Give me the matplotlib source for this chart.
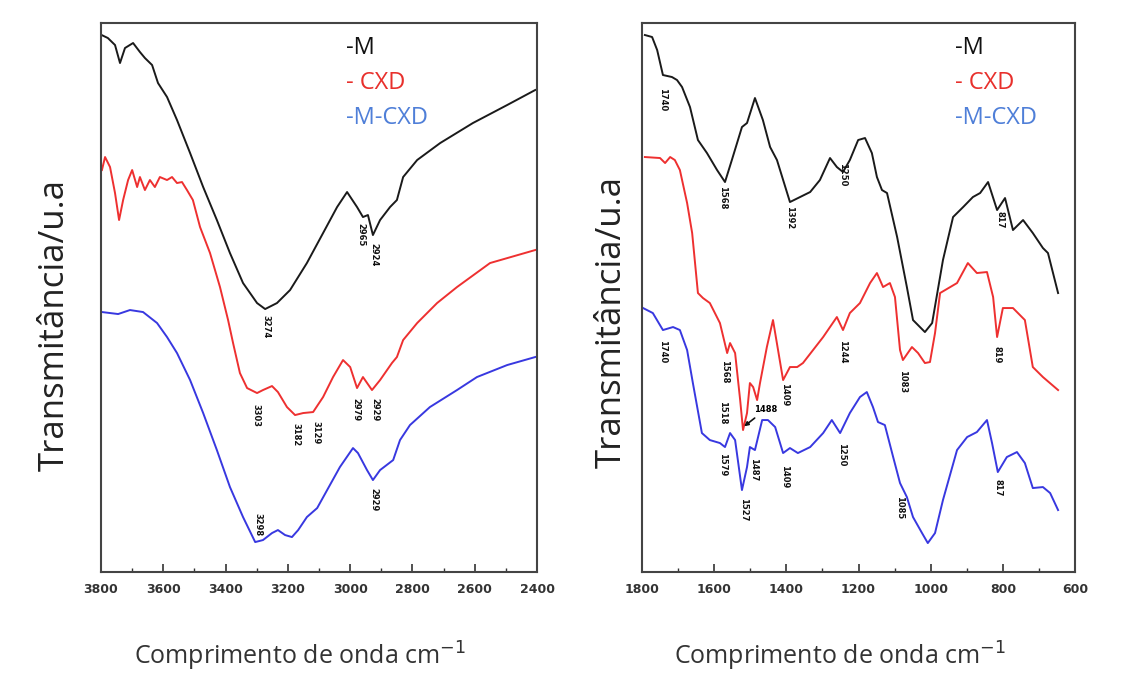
import matplotlib.pyplot as plt
from matplotlib.ticker import MultipleLocator

# ---- data (wavenumber cm-1, transmittance a.u.) ----
# left panel: 3800-2400 cm-1
wn_m_hi = [3798, 3778, 3755, 3739, 3723, 3697, 3675, 3659, 3636, 3617, 3588, 3556, 3514,
           3472, 3428, 3386, 3344, 3299, 3273, 3235, 3193, 3139, 3087, 3042, 3010, 2978,
           2959, 2943, 2927, 2904, 2872, 2850, 2830, 2785, 2711, 2606, 2496, 2406]
t_m_hi = [537, 534, 527, 509, 524, 529, 520, 514, 507, 489, 475, 452, 419,
          385, 352, 319, 289, 269, 263, 269, 282, 309, 339, 365, 380, 365,
          355, 357, 337, 352, 365, 372, 395, 412, 429, 449, 467, 482]

wn_cxd_hi = [3797, 3787, 3771, 3755, 3742, 3729, 3713, 3700, 3684, 3675, 3659, 3643, 3627,
             3611, 3588, 3572, 3556, 3540, 3524, 3505, 3482, 3450, 3418, 3392, 3376, 3354,
             3331, 3299, 3280, 3251, 3232, 3203, 3177, 3151, 3119, 3087, 3055, 3023, 3000,
             2978, 2959, 2930, 2904, 2866, 2850, 2830, 2785, 2721, 2657, 2551, 2406]
t_cxd_hi = [402, 415, 405, 379, 352, 372, 392, 402, 385, 395, 382, 392, 385,
            395, 392, 395, 389, 390, 382, 372, 345, 319, 285, 252, 229, 199,
            184, 179, 182, 186, 180, 165, 157, 159, 160, 175, 195, 212, 205,
            184, 195, 182, 192, 209, 215, 232, 249, 269, 285, 309, 322]

wn_mcxd_hi = [3797, 3745, 3707, 3665, 3620, 3588, 3556, 3514, 3472, 3428, 3386, 3344, 3305,
              3280, 3251, 3232, 3209, 3187, 3167, 3139, 3106, 3074, 3033, 2991, 2975, 2946,
              2927, 2904, 2862, 2840, 2808, 2744, 2657, 2593, 2496, 2406]
t_mcxd_hi = [260, 258, 262, 260, 249, 235, 219, 192, 159, 122, 85, 55, 30,
             32, 39, 42, 37, 35, 42, 55, 64, 82, 105, 124, 119, 102,
             92, 102, 112, 132, 147, 165, 182, 195, 207, 215]

# right panel: 1800-600 cm-1
wn_m_lo = [1792, 1772, 1758, 1742, 1717, 1703, 1689, 1667, 1645, 1620, 1592, 1570, 1551,
           1523, 1509, 1487, 1465, 1445, 1426, 1390, 1362, 1334, 1307, 1279, 1260, 1243,
           1224, 1201, 1182, 1163, 1149, 1135, 1121, 1093, 1066, 1049, 1016, 996, 966,
           938, 910, 883, 863, 841, 816, 794, 772, 744, 717, 689, 675, 647]
t_m_lo = [537, 535, 522, 497, 495, 492, 485, 465, 432, 419, 402, 390, 412,
          445, 449, 474, 452, 425, 412, 370, 375, 380, 392, 414, 405, 400,
          412, 432, 434, 419, 395, 382, 379, 335, 285, 252, 240, 249, 312,
          355, 365, 375, 379, 390, 362, 374, 342, 352, 339, 324, 319, 279]

wn_cxd_lo = [1792, 1750, 1736, 1722, 1709, 1695, 1675, 1661, 1645, 1631, 1612, 1584, 1564,
             1556, 1542, 1528, 1520, 1509, 1501, 1492, 1481, 1473, 1454, 1437, 1423, 1409,
             1390, 1370, 1354, 1326, 1298, 1279, 1260, 1243, 1224, 1196, 1168, 1149, 1132,
             1113, 1099, 1085, 1077, 1052, 1035, 1016, 1002, 988, 974, 927, 897, 872, 844,
             827, 816, 800, 772, 739, 717, 689, 647]
t_cxd_lo = [415, 414, 409, 415, 412, 402, 369, 339, 279, 274, 269, 249, 219,
            229, 219, 172, 142, 159, 189, 185, 172, 189, 225, 252, 222, 192,
            205, 205, 209, 222, 235, 245, 255, 242, 259, 269, 289, 299, 285,
            289, 275, 222, 212, 225, 219, 209, 210, 239, 279, 289, 309, 299, 300,
            275, 235, 264, 264, 252, 205, 195, 182]

wn_mcxd_lo = [1797, 1770, 1742, 1714, 1695, 1675, 1659, 1634, 1612, 1584, 1570, 1556, 1542,
              1523, 1509, 1501, 1487, 1467, 1451, 1431, 1409, 1390, 1368, 1334, 1298, 1274,
              1251, 1224, 1196, 1177, 1160, 1146, 1127, 1104, 1085, 1066, 1049, 1024, 1008,
              988, 966, 927, 899, 872, 844, 830, 814, 789, 761, 739, 717, 689, 669, 647]
t_mcxd_lo = [264, 259, 242, 245, 242, 222, 189, 139, 132, 129, 125, 139, 132,
             82, 105, 125, 122, 152, 152, 145, 119, 124, 119, 125, 139, 152,
             139, 159, 175, 180, 165, 150, 147, 115, 89, 75, 55, 39, 29,
             39, 72, 122, 135, 140, 152, 129, 100, 115, 120, 109, 84, 85, 79, 62]

# peak labels: (text, wavenumber, height)
peaks_hi = [("3274", 3270, 245), ("2965", 2965, 337), ("2924", 2923, 317),
            ("3303", 3302, 157), ("3182", 3174, 137), ("3129", 3110, 139),
            ("2979", 2981, 162), ("2929", 2920, 162), ("2929", 2923, 72),
            ("3298", 3296, 47)]
peaks_lo = [("1740", 1742, 472), ("1568", 1576, 374), ("1392", 1390, 354),
            ("1250", 1243, 397), ("817", 808, 352), ("1740", 1742, 220),
            ("1568", 1570, 200), ("1518", 1578, 159), ("1409", 1404, 177),
            ("1244", 1243, 220), ("1083", 1077, 190), ("819", 816, 217),
            ("1579", 1576, 107), ("1527", 1520, 62), ("1487", 1492, 102),
            ("1409", 1404, 95), ("1250", 1246, 117), ("1085", 1085, 64),
            ("817", 814, 84)]

legend_names = ["-M", "- CXD", "-M-CXD"]
legend_colors = ["#111111", "#e8302c", "#4f7fd8"]
line_colors = ["#1a1a1a", "#ee3030", "#3838e0"]

fig = plt.figure(figsize=(11.21, 6.77), dpi=100)
ax1 = fig.add_axes([0.0901, 0.155, 0.389, 0.811])
ax2 = fig.add_axes([0.5727, 0.155, 0.3863, 0.811])

panels = [
    (ax1, [(wn_m_hi, t_m_hi), (wn_cxd_hi, t_cxd_hi), (wn_mcxd_hi, t_mcxd_hi)], (3800, 2400), peaks_hi, 0.562),
    (ax2, [(wn_m_lo, t_m_lo), (wn_cxd_lo, t_cxd_lo), (wn_mcxd_lo, t_mcxd_lo)], (1800, 600), peaks_lo, 0.722),
]

for ax, series, xl, peaks, leg_x in panels:
    for (x, y), c in zip(series, line_colors):
        ax.plot(x, y, color=c, lw=1.4)
    ax.set_xlim(*xl)
    ax.set_ylim(0, 549)
    ax.set_yticks([])
    ax.xaxis.set_major_locator(MultipleLocator(200))
    ax.xaxis.set_minor_locator(MultipleLocator(100))
    ax.tick_params(axis='x', which='major', direction='in', length=6, width=1.2,
                   colors='#333333', labelsize=9, pad=8)
    ax.tick_params(axis='x', which='minor', direction='in', length=3, width=1.0, colors='#333333')
    for lab in ax.get_xticklabels():
        lab.set_fontweight('bold')
    for sp in ax.spines.values():
        sp.set_color('#444444')
        sp.set_linewidth(1.5)
    for txt, px, py in peaks:
        ax.text(px, py, txt, rotation=-90, fontsize=6, fontweight='bold',
                ha='center', va='center', color='#111111')
    # legend-like colored names
    for i, (name, c) in enumerate(zip(legend_names, legend_colors)):
        ax.text(leg_x, 0.955 - i * 0.064, name, transform=ax.transAxes, color=c,
                fontsize=17, family='Open Sans', ha='left', va='center')

# arrow label for 1488 in right panel
ax2.annotate("1488", xy=(1523, 144), xytext=(1456, 163), fontsize=6, fontweight='bold',
             ha='center', va='center',
             arrowprops=dict(arrowstyle='-|>', color='#111111', lw=1.2))

for xc, yc in [(0.049, 0.52), (0.546, 0.525)]:
    fig.text(xc, yc, "Transmitância/u.a", rotation=90, fontsize=25, family='Open Sans',
             color='#222222', ha='center', va='center')
for xc in [0.268, 0.749]:
    fig.text(xc, 0.03, "Comprimento de onda cm$^{-1}$", fontsize=18, family='Open Sans',
             color='#333333', ha='center', va='center')

fig.savefig("out.png", dpi=100)
